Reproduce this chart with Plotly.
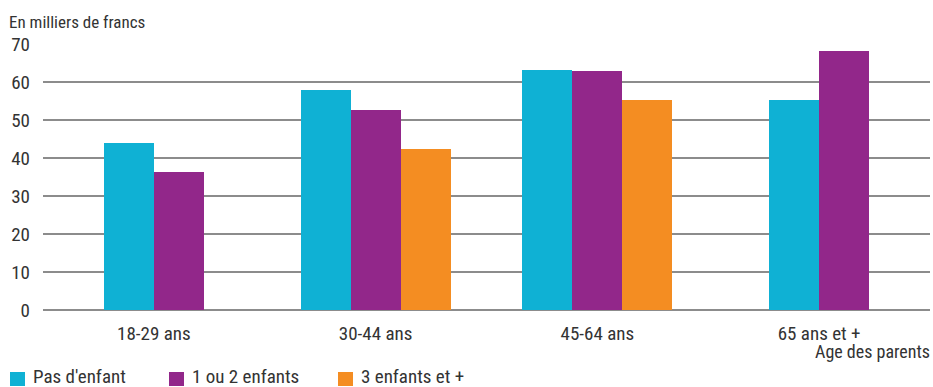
import plotly.graph_objects as go

# Revenu moyen selon l'âge des parents et le nombre d'enfants
categories = ["18-29 ans", "30-44 ans", "45-64 ans", "65 ans et +"]
series_names = ["Pas d'enfant", "1 ou 2 enfants", "3 enfants et +"]
pas_enfant = [43.9, 57.9, 63.2, 55.3]
un_ou_deux = [36.3, 52.6, 62.9, 68.2]
trois_plus = [None, 42.4, 55.3, None]
y_ticks = [0, 10, 20, 30, 40, 50, 60, 70]

colors = ["#0FB1D4", "#92278A", "#F48D22"]
series = [pas_enfant, un_ou_deux, trois_plus]

FONT = "Liberation Sans Narrow, Roboto Condensed, Arial Narrow, Roboto, sans-serif"
TXT = "#333333"

W, H = 933, 387
L, R, T, B = 43, 3, 44, 77
plot_w = W - L - R
plot_h = H - T - B

BAR_W = 50 / (plot_w / len(categories))  # bar width in category units

# Within each category, the bars that exist are centred together
offsets = [[None] * len(categories) for _ in series]
for ci in range(len(categories)):
    present = [si for si, s in enumerate(series) if s[ci] is not None]
    start = -len(present) * BAR_W / 2
    for k, si in enumerate(present):
        offsets[si][ci] = start + k * BAR_W

fig = go.Figure()
for si, (name, vals) in enumerate(zip(series_names, series)):
    fig.add_trace(go.Bar(
        x=categories,
        y=vals,
        name=name,
        width=[BAR_W] * len(categories),
        offset=[o if o is not None else 0 for o in offsets[si]],
        marker=dict(color=colors[si], line=dict(width=0)),
        showlegend=False,
        hoverinfo="x+y+name",
    ))


def px_x(px):
    return (px - L) / plot_w


def px_y(py):
    return (H - B - py) / plot_h


annotations = [
    dict(text="En milliers de francs", x=px_x(7), y=px_y(22), xref="paper", yref="paper",
         xanchor="left", yanchor="middle", showarrow=False,
         font=dict(family=FONT, size=17, color=TXT)),
    dict(text="Age des parents", x=px_x(932), y=px_y(351), xref="paper", yref="paper",
         xanchor="right", yanchor="middle", showarrow=False,
         font=dict(family=FONT, size=18, color=TXT)),
]

# Legend drawn as coloured squares with labels
shapes = []
legend_pos = [10, 169, 338]
for name, c, lx in zip(series_names, colors, legend_pos):
    shapes.append(dict(type="rect", xref="paper", yref="paper",
                       x0=px_x(lx), x1=px_x(lx + 15), y0=px_y(386), y1=px_y(372),
                       fillcolor=c, line=dict(width=0)))
    annotations.append(dict(text=name, x=px_x(lx + 21), y=px_y(376), xref="paper", yref="paper",
                            xanchor="left", yanchor="middle", showarrow=False,
                            font=dict(family=FONT, size=19, color=TXT)))

fig.update_layout(
    width=W, height=H,
    margin=dict(l=L, r=R, t=T, b=B, pad=0),
    paper_bgcolor="white", plot_bgcolor="white",
    barmode="overlay",
    bargap=0,
    font=dict(family=FONT, color=TXT),
    xaxis=dict(
        type="category",
        showgrid=False, zeroline=False, showline=False,
        ticks="", tickfont=dict(family=FONT, size=19, color=TXT),
        ticklabelstandoff=10,
    ),
    yaxis=dict(
        range=[0, 70],
        tickvals=y_ticks,
        showgrid=True, gridcolor="#8C8C8C", gridwidth=1.6,
        zeroline=True, zerolinecolor="#8C8C8C", zerolinewidth=1.6,
        showline=False, ticks="",
        tickfont=dict(family=FONT, size=19, color=TXT),
        ticklabelstandoff=12,
    ),
    annotations=annotations,
    shapes=shapes,
)

fig.write_html("out.html")
